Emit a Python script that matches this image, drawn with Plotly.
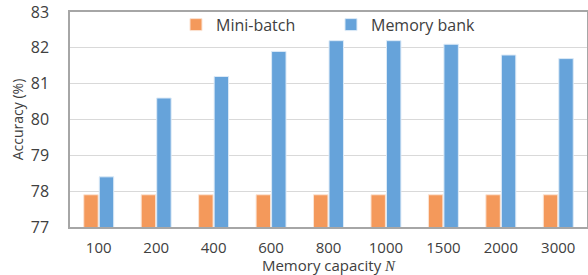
import plotly.graph_objects as go

categories = ["100", "200", "400", "600", "800", "1000", "1500", "2000", "3000"]
mini_batch = [77.9, 77.9, 77.9, 77.9, 77.9, 77.9, 77.9, 77.9, 77.9]
memory_bank = [78.4, 80.6, 81.2, 81.9, 82.2, 82.2, 82.1, 81.8, 81.7]
y_ticks = [77, 78, 79, 80, 81, 82, 83]

FONT = "Open Sans"
TXT = "#404040"

fig = go.Figure()
fig.add_trace(go.Bar(name="Mini-batch", x=categories, y=mini_batch,
                     marker=dict(color="#F4995B", line=dict(color="#FBE3D3", width=1))))
fig.add_trace(go.Bar(name="Memory bank", x=categories, y=memory_bank,
                     marker=dict(color="#66A3DA", line=dict(color="#DCEAF7", width=1))))

fig.update_layout(
    width=588, height=275,
    margin=dict(l=70, r=1, t=12, b=48, autoexpand=False),
    paper_bgcolor="white", plot_bgcolor="white",
    barmode="group", bargap=0.46, bargroupgap=0.07,
    font=dict(family=FONT, size=15, color=TXT),
    showlegend=True,
    legend=dict(orientation="h", x=0.205, y=1.02, xanchor="left", yanchor="top",
                font=dict(size=16, color=TXT), itemwidth=30,
                entrywidth=110, bgcolor="rgba(0,0,0,0)"),
    xaxis=dict(showline=True, linecolor="#A6A6A6", linewidth=1.5, mirror=True,
               ticks="", tickfont=dict(size=15, color=TXT), automargin=False,
               ticklabelstandoff=6,
               title=dict(text="Memory capacity <i><span style='font-family:Liberation Serif'>N</span></i>",
                          font=dict(size=15, color=TXT), standoff=0)),
    yaxis=dict(range=[77, 83], tickvals=y_ticks, showline=True, linecolor="#A6A6A6",
               linewidth=1.5, mirror=True, showgrid=True, gridcolor="#D9D9D9",
               ticks="", ticklabelstandoff=16, tickfont=dict(size=16, color=TXT),
               automargin=False,
               title=dict(text="Accuracy (%)", font=dict(size=14, color=TXT), standoff=4)),
)

fig.write_html("out.html", config={"displayModeBar": False},
               post_script="document.body.style.margin='0';document.body.style.padding='0';"
                           "window.dispatchEvent(new Event('resize'));")
